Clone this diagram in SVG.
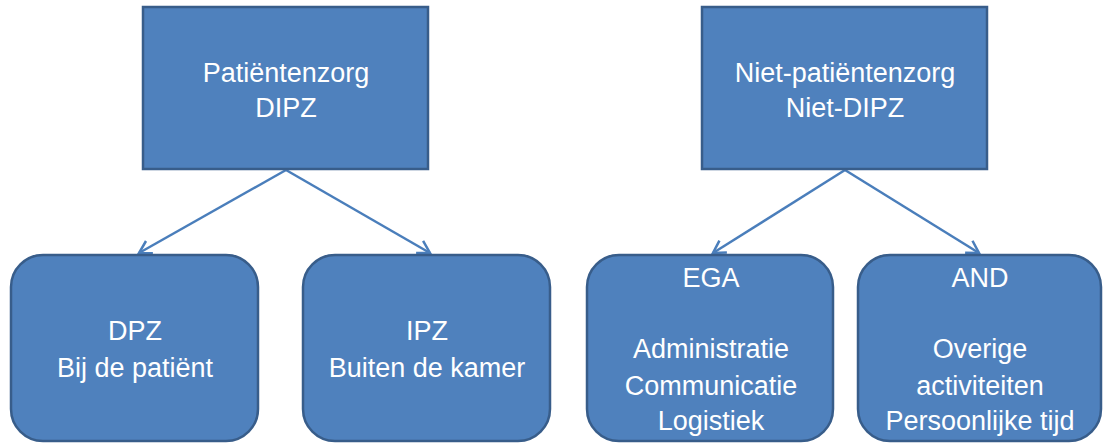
<svg xmlns="http://www.w3.org/2000/svg" width="1107" height="443" viewBox="0 0 1107 443">
<defs>
<style>
.box{fill:#4F81BD;stroke:#385D8A;stroke-width:2.5}
.t{font-family:"Liberation Sans",Arial,sans-serif;font-size:27px;fill:#FFFFFF;text-anchor:middle}
.c{stroke:#4A7EBB;stroke-width:2.5;fill:none}
</style>
<marker id="ah" markerUnits="userSpaceOnUse" markerWidth="20" markerHeight="20" viewBox="0 0 20 20" refX="16" refY="10" orient="auto">
<path d="M4,3 L16,10 L4,17" fill="none" stroke="#4A7EBB" stroke-width="2.5"/>
</marker>
</defs>
<g id="connectors">
<line class="c" x1="286" y1="170" x2="139" y2="253" marker-end="url(#ah)"/>
<line class="c" x1="286" y1="170" x2="430" y2="253" marker-end="url(#ah)"/>
<line class="c" x1="845" y1="170" x2="713" y2="253" marker-end="url(#ah)"/>
<line class="c" x1="845" y1="170" x2="979" y2="253" marker-end="url(#ah)"/>
</g>
<g id="dipz">
<rect class="box" x="143" y="7" width="285" height="162"/>
<text class="t" x="286" y="82">Patiëntenzorg</text>
<text class="t" x="286" y="117">DIPZ</text>
</g>
<g id="niet-dipz">
<rect class="box" x="702" y="7" width="285" height="162"/>
<text class="t" x="845" y="82">Niet-patiëntenzorg</text>
<text class="t" x="845" y="117">Niet-DIPZ</text>
</g>
<g id="dpz">
<rect class="box" x="11" y="255" width="247" height="186" rx="32" ry="32"/>
<text class="t" x="135" y="340">DPZ</text>
<text class="t" x="135" y="377">Bij de patiënt</text>
</g>
<g id="ipz">
<rect class="box" x="303" y="255" width="247" height="186" rx="32" ry="32"/>
<text class="t" x="427" y="340">IPZ</text>
<text class="t" x="427" y="377">Buiten de kamer</text>
</g>
<g id="ega">
<rect class="box" x="587" y="255" width="246" height="186" rx="32" ry="32"/>
<text class="t" x="711" y="287">EGA</text>
<text class="t" x="711" y="358">Administratie</text>
<text class="t" x="711" y="395">Communicatie</text>
<text class="t" x="711" y="430">Logistiek</text>
</g>
<g id="and">
<rect class="box" x="858" y="255" width="243" height="186" rx="32" ry="32"/>
<text class="t" x="980" y="287">AND</text>
<text class="t" x="980" y="358">Overige</text>
<text class="t" x="980" y="395">activiteiten</text>
<text class="t" x="980" y="430">Persoonlijke tijd</text>
</g>
</svg>
